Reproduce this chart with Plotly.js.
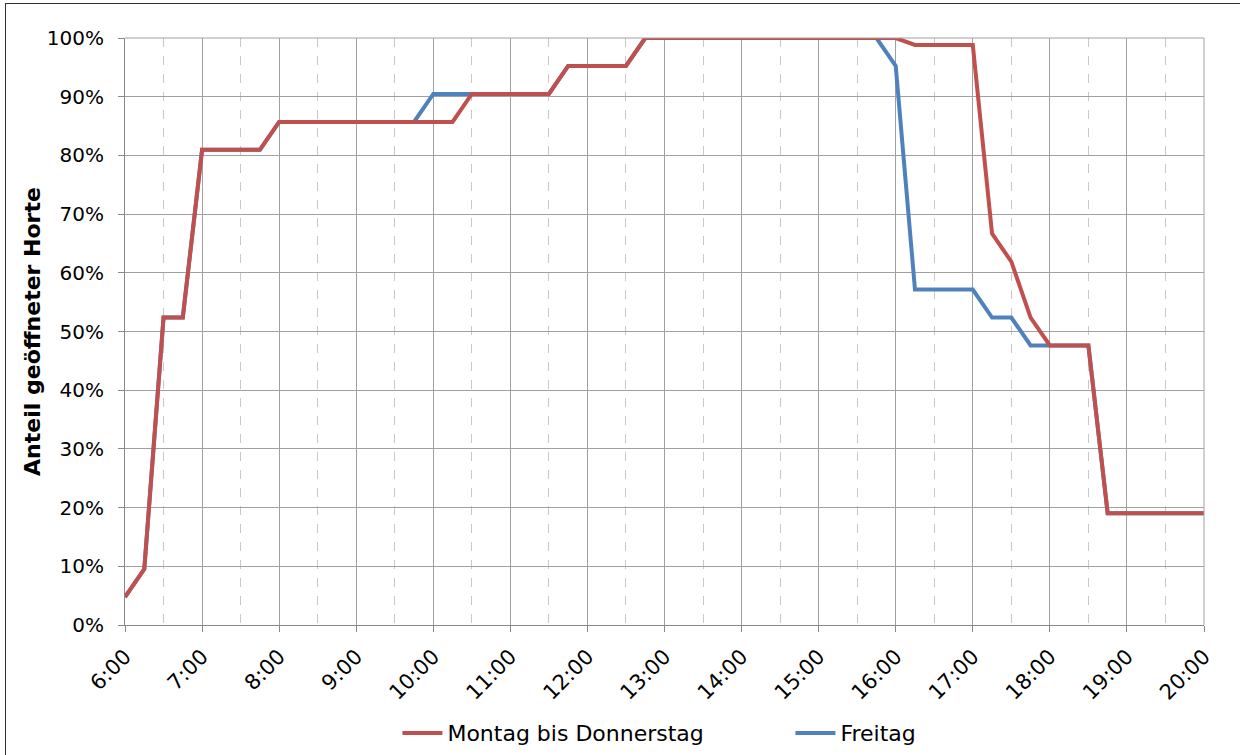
<!DOCTYPE html>
<html>
<head>
<meta charset="utf-8">
<script src="https://cdn.plot.ly/plotly-3.0.1.min.js"></script>
<style>
  html, body { margin: 0; padding: 0; background: #ffffff; }
  #wrap { position: relative; width: 1240px; height: 755px; overflow: hidden; }
  #frame { position: absolute; left: 5px; top: 3px; width: 1260px; height: 780px;
           border: 1px solid #333333; box-sizing: border-box; pointer-events: none; }
  #chart { position: absolute; left: 0; top: 0; width: 1240px; height: 755px; }
</style>
</head>
<body>
<div id="wrap">
  <div id="chart"></div>
  <div id="frame"></div>
</div>
<script>
// Quarter-hour time slots from 6:00 to 20:00
const times = [
  "6:00","6:15","6:30","6:45","7:00","7:15","7:30","7:45",
  "8:00","8:15","8:30","8:45","9:00","9:15","9:30","9:45",
  "10:00","10:15","10:30","10:45","11:00","11:15","11:30","11:45",
  "12:00","12:15","12:30","12:45","13:00","13:15","13:30","13:45",
  "14:00","14:15","14:30","14:45","15:00","15:15","15:30","15:45",
  "16:00","16:15","16:30","16:45","17:00","17:15","17:30","17:45",
  "18:00","18:15","18:30","18:45","19:00","19:15","19:30","19:45",
  "20:00"
];

// Share of open after-school centres (%), Monday to Thursday
const montagBisDonnerstag = [
  4.76, 9.52, 52.38, 52.38, 80.95, 80.95, 80.95, 80.95,
  85.71, 85.71, 85.71, 85.71, 85.71, 85.71, 85.71, 85.71,
  85.71, 85.71, 90.48, 90.48, 90.48, 90.48, 90.48, 95.24,
  95.24, 95.24, 95.24, 100, 100, 100, 100, 100,
  100, 100, 100, 100, 100, 100, 100, 100,
  100, 98.81, 98.81, 98.81, 98.81, 66.67, 61.90, 52.38,
  47.62, 47.62, 47.62, 19.05, 19.05, 19.05, 19.05, 19.05,
  19.05
];

// Share of open after-school centres (%), Friday
const freitag = [
  4.76, 9.52, 52.38, 52.38, 80.95, 80.95, 80.95, 80.95,
  85.71, 85.71, 85.71, 85.71, 85.71, 85.71, 85.71, 85.71,
  90.48, 90.48, 90.48, 90.48, 90.48, 90.48, 90.48, 95.24,
  95.24, 95.24, 95.24, 100, 100, 100, 100, 100,
  100, 100, 100, 100, 100, 100, 100, 100,
  95.24, 57.14, 57.14, 57.14, 57.14, 52.38, 52.38, 47.62,
  47.62, 47.62, 47.62, 19.05, 19.05, 19.05, 19.05, 19.05,
  19.05
];

// Hour labels shown on the x axis
const hourLabels = ["6:00","7:00","8:00","9:00","10:00","11:00","12:00",
                    "13:00","14:00","15:00","16:00","17:00","18:00","19:00","20:00"];

const toHours = s => { const [h, m] = s.split(":").map(Number); return h + m / 60; };
const xHours = times.map(toHours);
const hourVals = hourLabels.map(toHours);

const FONT = "'DejaVu Sans', sans-serif";

const traces = [
  {
    x: xHours, y: freitag, name: "Freitag", type: "scatter", mode: "lines",
    line: { color: "#4F81BD", width: 4 }, legendrank: 2
  },
  {
    x: xHours, y: montagBisDonnerstag, name: "Montag bis Donnerstag",
    type: "scatter", mode: "lines",
    line: { color: "#C0504D", width: 4 }, legendrank: 1
  }
];

const layout = {
  width: 1240, height: 755,
  margin: { l: 125, r: 36, t: 38, b: 130 },
  paper_bgcolor: "#ffffff", plot_bgcolor: "#ffffff",
  font: { family: FONT, size: 20, color: "#000000" },
  showlegend: true,
  legend: {
    orientation: "h", xref: "container", yref: "container",
    x: 0.3205, xanchor: "left", y: 0.029, yanchor: "middle",
    font: { family: FONT, size: 22, color: "#000000" },
    traceorder: "normal", entrywidth: 338, itemwidth: 40
  },
  xaxis: {
    range: [6, 20], tickmode: "array", tickvals: hourVals, ticktext: hourLabels,
    tickangle: -45, ticks: "outside", ticklen: 6, tickcolor: "#888888",
    ticklabelstandoff: 4, automargin: false,
    showline: true, linecolor: "#888888", linewidth: 1,
    showgrid: true, gridcolor: "#A0A0A0", gridwidth: 1,
    zeroline: false, mirror: false,
    tickfont: { family: FONT, size: 21 },
    minor: { dtick: 0.5, tick0: 6, showgrid: true, gridcolor: "#C8C8C8",
             griddash: "dash", gridwidth: 1, ticks: "" }
  },
  yaxis: {
    range: [0, 100], dtick: 10, tick0: 0, ticksuffix: "%",
    ticks: "outside", ticklen: 6, tickcolor: "#888888",
    ticklabelstandoff: 10, automargin: false,
    showline: true, linecolor: "#888888", linewidth: 1,
    showgrid: true, gridcolor: "#A0A0A0", gridwidth: 1, zeroline: false,
    tickfont: { family: FONT, size: 20 },
    title: { text: "<b>Anteil geöffneter Horte</b>", standoff: 0,
             font: { family: FONT, size: 22, color: "#000000" } }
  },
  shapes: [
    { type: "line", xref: "paper", yref: "paper", x0: 1, x1: 1, y0: 0, y1: 1,
      line: { color: "#A0A0A0", width: 1 } },
    { type: "line", xref: "paper", yref: "paper", x0: 0, x1: 1, y0: 1, y1: 1,
      line: { color: "#A0A0A0", width: 1 } }
  ]
};

Plotly.newPlot("chart", traces, layout, { displayModeBar: false, staticPlot: true });
</script>
</body>
</html>
